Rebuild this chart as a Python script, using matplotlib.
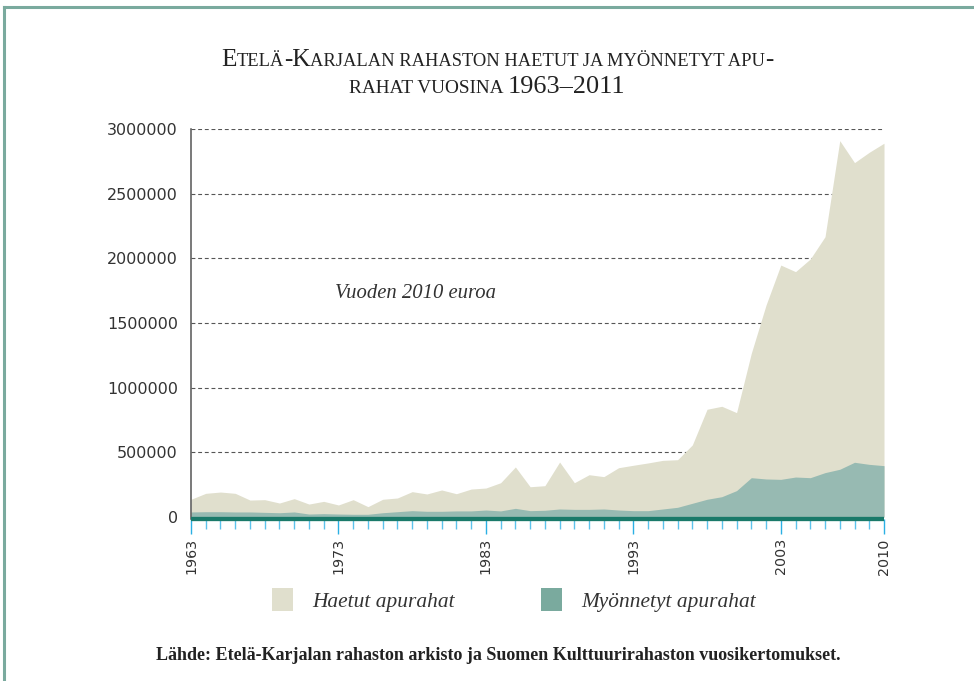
import matplotlib
matplotlib.use('Agg')
import matplotlib.pyplot as plt
from matplotlib.patches import Rectangle
from matplotlib.lines import Line2D

# ---------------- data ----------------
years = list(range(1963, 2011))
haetut = [137000, 183000, 193000, 183000, 131000, 134000, 108000, 142000, 100000, 121000,
          93000, 134000, 80000, 137000, 147000, 196000, 178000, 209000, 180000, 216000,
          224000, 265000, 387000, 234000, 242000, 425000, 265000, 327000, 312000, 381000,
          400000, 418000, 438000, 443000, 557000, 833000, 856000, 807000, 1266000, 1639000,
          1948000, 1897000, 1995000, 2167000, 2910000, 2740000, 2820000, 2890000]
myonnetyt = [39000, 41000, 41000, 39000, 39000, 36000, 33000, 39000, 23000, 26000,
             23000, 21000, 21000, 33000, 41000, 49000, 44000, 44000, 47000, 47000,
             54000, 47000, 67000, 49000, 52000, 62000, 59000, 59000, 62000, 54000,
             49000, 49000, 62000, 75000, 106000, 137000, 157000, 204000, 304000, 294000,
             291000, 309000, 304000, 343000, 369000, 423000, 407000, 397000]
major_years = [1963, 1973, 1983, 1993, 2003, 2010]
y_ticks = [0, 500000, 1000000, 1500000, 2000000, 2500000, 3000000]
y_labels = [str(v) for v in y_ticks]

title_lines = ["Etelä-Karjalan rahaston haetut ja myönnetyt apu-",
               "rahat vuosina 1963–2011"]
note_text = "Vuoden 2010 euroa"
legend_labels = ["Haetut apurahat", "Myönnetyt apurahat"]
source_text = "Lähde: Etelä-Karjalan rahaston arkisto ja Suomen Kulttuurirahaston vuosikertomukset."

# ---------------- style ----------------
C_HAETUT = '#e0dfcd'
C_MYON = '#97bab2'
C_MYON_LEG = '#7aaa9e'
C_BAR = '#1a7a6a'
C_TICK = '#2bb0e4'
C_FRAME = '#7aaa9e'
SERIF = 'Liberation Serif'

W, H = 974, 681
fig = plt.figure(figsize=(W / 100, H / 100), dpi=100)
renderer = fig.canvas.get_renderer()


def fx(x):
    return x / W


def fy(y):
    return 1 - y / H


# ---------------- axes ----------------
ax_left, ax_right, ax_top, ax_bot = 191, 884, 129, 519
zero_px = 517
ax = fig.add_axes([fx(ax_left), fy(ax_bot), (ax_right - ax_left) / W, (ax_bot - ax_top) / H])
ymax = 3e6
ppu = (zero_px - ax_top) / ymax
ax.set_ylim(-(ax_bot - zero_px) / ppu, ymax)
ax.set_xlim(years[0], years[-1])

ax.fill_between(years, 0, haetut, color=C_HAETUT, lw=0, zorder=1)
ax.fill_between(years, 0, myonnetyt, color=C_MYON, lw=0, zorder=2)

ax.set_axisbelow(True)
ax.set_yticks(y_ticks)
ax.set_yticklabels(y_labels)
ax.yaxis.grid(True, linestyle=(0, (3.5, 2.5)), color='#555555', lw=0.8)
ax.tick_params(axis='y', length=0, pad=9.4, labelsize=11.5, labelcolor='#333333')

ax.set_xticks(major_years)
ax.set_xticklabels([str(y) for y in major_years])
ax.set_xticks(years, minor=True)
ax.tick_params(axis='x', which='major', length=10.8, width=1.0, color=C_TICK,
               pad=3.0, labelrotation=90, labelsize=10.3, labelcolor='#333333')
ax.tick_params(axis='x', which='minor', length=7.4, width=1.0, color='#5cc3ec')

for s in ['top', 'right', 'bottom']:
    ax.spines[s].set_visible(False)
ax.spines['left'].set_color('#555555')
ax.spines['left'].set_linewidth(1.1)

ax.plot([0, 1], [0, 0], transform=ax.transAxes, color=C_BAR, lw=3.1,
        solid_capstyle='butt', clip_on=False, zorder=5)


# ---------------- text helpers ----------------
def adv_width(s, size, **kw):
    t1 = fig.text(0, 0, '|' + s + '|', fontsize=size, **kw)
    t2 = fig.text(0, 0, '||', fontsize=size, **kw)
    w = t1.get_window_extent(renderer).width - t2.get_window_extent(renderer).width
    t1.remove()
    t2.remove()
    return w


def fit_size(s, target_w, base, **kw):
    return base * target_w / adv_width(s, base, **kw)


def runs_of(line):
    runs = []
    for ch in line:
        big = not (ch.islower() or ch == ' ')
        c = ch.upper()
        if runs and runs[-1][1] == big:
            runs[-1][0] += c
        else:
            runs.append([c, big])
    return runs


def smallcaps_width(line, big, small):
    return sum(adv_width(r, big if b else small, family=SERIF) for r, b in runs_of(line))


def draw_smallcaps(line, cx, base_y, big, small, color='#222222'):
    total = smallcaps_width(line, big, small)
    x = cx - total / 2
    for r, b in runs_of(line):
        size = big if b else small
        fig.text(fx(x), fy(base_y), r, fontsize=size, family=SERIF, color=color,
                 ha='left', va='baseline')
        x += adv_width(r, size, family=SERIF)


# ---------------- title ----------------
big0, small0 = 15.0, 11.0
scale = 551 / smallcaps_width(title_lines[0], big0, small0)
big, small = big0 * scale, small0 * scale
draw_smallcaps(title_lines[0], 497.5, 66, big, small)
draw_smallcaps(title_lines[1], 487, 93, big * 1.04, small * 1.04)

# ---------------- note ----------------
ns = fit_size(note_text, 162, 15, family=SERIF, style='italic')
fig.text(fx(335), fy(298), note_text, fontsize=ns, family=SERIF, style='italic',
         color='#333333', ha='left', va='baseline')

# ---------------- legend ----------------
ls = (fit_size(legend_labels[0], 145, 15, family=SERIF, style='italic') +
      fit_size(legend_labels[1], 172, 15, family=SERIF, style='italic')) / 2
for sx, tx, col, lab in [(272, 312, C_HAETUT, legend_labels[0]),
                         (541, 581, C_MYON_LEG, legend_labels[1])]:
    fig.patches.append(Rectangle((fx(sx), fy(611)), 21 / W, 23 / H, transform=fig.transFigure,
                                 facecolor=col, edgecolor='none'))
    fig.text(fx(tx), fy(607), lab, fontsize=ls, family=SERIF, style='italic',
             color='#333333', ha='left', va='baseline')

# ---------------- source ----------------
ss = fit_size(source_text, 680, 12, family=SERIF, weight='bold')
fig.text(fx(498), fy(660), source_text, fontsize=ss, family=SERIF, weight='bold',
         color='#222222', ha='center', va='baseline')

# ---------------- frame ----------------
fig.lines.append(Line2D([fx(4), 1], [fy(7), fy(7)], transform=fig.transFigure,
                        color=C_FRAME, lw=2.2, solid_capstyle='projecting'))
fig.lines.append(Line2D([fx(4), fx(4)], [fy(7), 0], transform=fig.transFigure,
                        color=C_FRAME, lw=2.2, solid_capstyle='projecting'))

fig.savefig('out.png', dpi=100, facecolor='white')
